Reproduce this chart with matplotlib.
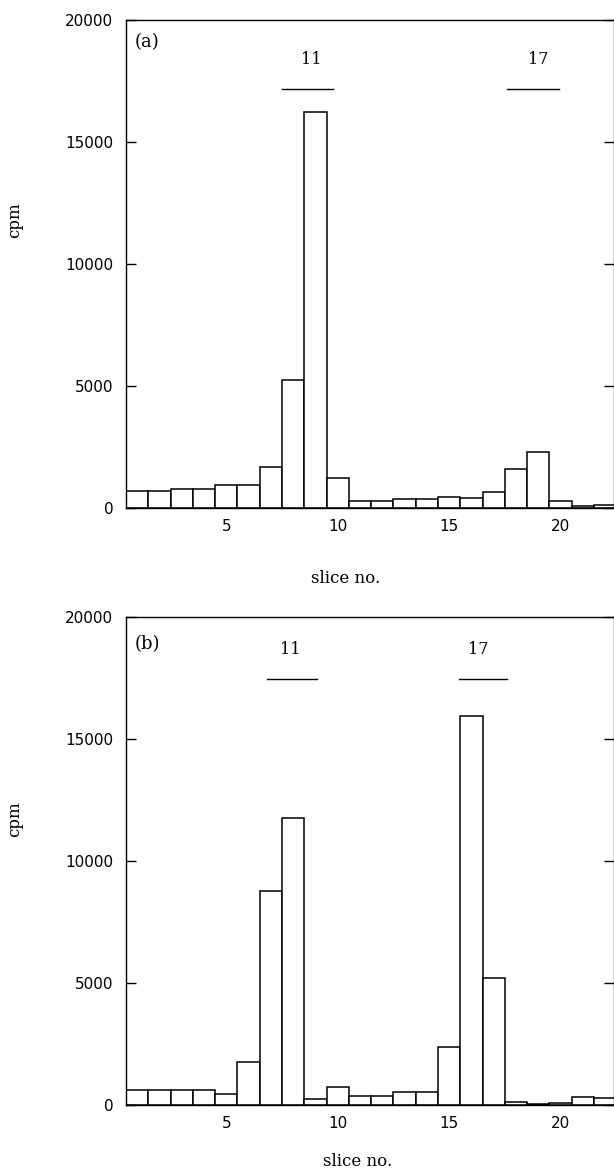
import matplotlib
matplotlib.use("Agg")
import matplotlib.pyplot as plt
import numpy as np

# slice numbers and counts (cpm)
slices = np.arange(1, 23)
cpm_a = [700, 700, 760, 760, 950, 930, 1660, 5250, 16250, 1230,
         290, 270, 350, 350, 450, 420, 650, 1590, 2290, 290, 80, 120]
cpm_b = [600, 600, 600, 600, 470, 1770, 8770, 11750, 230, 750,
         360, 360, 530, 530, 2360, 15950, 5200, 110, 60, 100, 330, 300]

yticks = [0, 5000, 10000, 15000, 20000]
xticks = [5, 10, 15, 20]

# marker bars: (label, label x, line start, line end)
markers_a = [("11", 8.8, 7.5, 9.8), ("17", 19.0, 17.6, 19.95)]
markers_b = [("11", 7.85, 6.85, 9.05), ("17", 16.3, 15.45, 17.6)]

serif = "DejaVu Serif"
sans = "DejaVu Sans"

fig = plt.figure(figsize=(6.14, 11.69), dpi=100)
ax_a = fig.add_axes([126/614, 1 - 508/1169, 488/614, 488/1169])
ax_b = fig.add_axes([126/614, 1 - 1105/1169, 488/614, 488/1169])


def draw_panel(ax, vals, tag, tag_y, markers, label_y, line_y, xlab_pos, ylab_pos):
    ax.bar(slices, vals, width=1.0, facecolor="white", edgecolor="black", linewidth=1.1)
    ax.set_xlim(0.5, 22.4)
    ax.set_ylim(0, 20000)
    ax.set_yticks(yticks)
    ax.set_xticks(xticks)
    ax.tick_params(axis="y", direction="in", length=7, width=1, right=True,
                   pad=9, labelsize=11)
    ax.tick_params(axis="x", length=0, pad=8, labelsize=11)
    for lab in ax.get_xticklabels() + ax.get_yticklabels():
        lab.set_fontfamily(sans)
    for sp in ax.spines.values():
        sp.set_linewidth(1.0)
    ax.text(0.018, tag_y, tag, transform=ax.transAxes, fontsize=13,
            family=serif, ha="left", va="center")
    for txt, tx, x0, x1 in markers:
        ax.text(tx, label_y, txt, fontsize=11.5, family=serif, ha="center", va="center")
        ax.plot([x0, x1], [line_y, line_y], color="black", linewidth=1.0)
    ax.set_xlabel("slice no.", family=serif, fontsize=12)
    ax.set_ylabel("cpm", family=serif, fontsize=12)
    ax.xaxis.set_label_coords(*xlab_pos)
    ax.yaxis.set_label_coords(*ylab_pos)


draw_panel(ax_a, cpm_a, "(a)", 0.955, markers_a, 18400, 17170, (0.45, -0.127), (-0.21, 0.59))
draw_panel(ax_b, cpm_b, "(b)", 0.945, markers_b, 18650, 17460, (0.474, -0.098), (-0.21, 0.585))

fig.savefig("out.png", dpi=100)
